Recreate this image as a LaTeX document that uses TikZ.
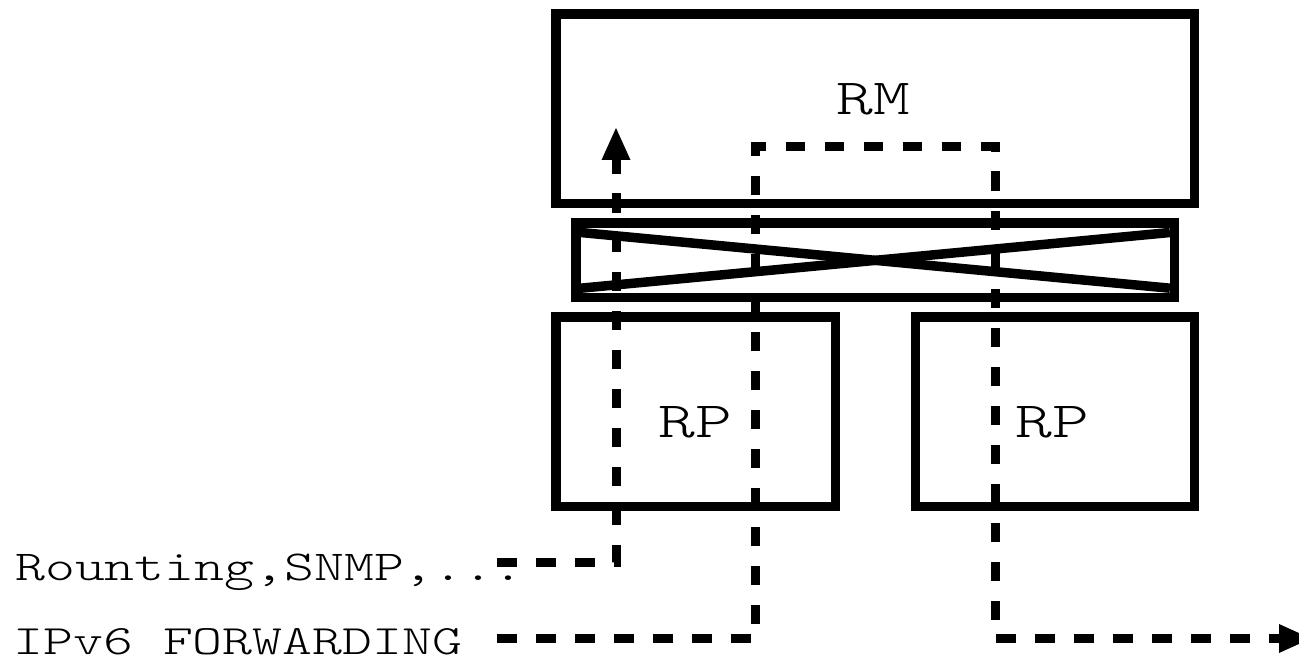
\documentclass[tikz,border=0pt]{standalone}
\usepackage{fontspec}
\newfontfamily\lmlight{lmmonolt10-regular.otf}
\usetikzlibrary{arrows.meta}
\begin{document}
\begin{tikzpicture}[x=1pt,y=-1pt,
  box/.style={draw, line width=9.5pt, inner sep=0pt, outer sep=0pt},
  diag/.style={line width=9.5pt},
  lab/.style={inner sep=0pt, outer sep=0pt, font=\lmlight},
  flow/.style={line width=9pt, dash pattern=on 19.5pt off 19.5pt,
    -{Triangle[length=32pt, width=29pt, line width=0pt]}}]
\clip (0,0) rectangle (1299,658);
% boxes
\node[box, minimum width=638.7pt, minimum height=189.7pt] (rm) at (875.35,108.85) {};
\node[box, minimum width=598.7pt, minimum height=74.7pt] (xb) at (875.35,260.35) {};
\node[box, minimum width=279.5pt, minimum height=189.3pt] (rpl) at (695.75,411.65) {};
\node[box, minimum width=279.4pt, minimum height=189.3pt] (rpr) at (1055,411.65) {};
% crossbar diagonals
\draw[diag] ([shift={(4.75,9.5)}]xb.north west) -- ([shift={(-4.75,-9.5)}]xb.south east);
\draw[diag] ([shift={(4.75,-9.5)}]xb.south west) -- ([shift={(-4.75,9.5)}]xb.north east);
% labels
\node[lab, anchor=base] (lrm) at (873,114.3) {\resizebox{73.6pt}{31pt}{RM}};
\node[lab, anchor=base] (lrpl) at (695.5,437) {\resizebox{73.6pt}{31pt}{RP}};
\node[lab, anchor=base] (lrpr) at (1052,437) {\resizebox{73.6pt}{31pt}{RP}};
\node[lab, anchor=base west] (t1) at (15.3,580) {\resizebox{508.3pt}{26.5pt}{Rounting,SNMP,...}};
\node[lab, anchor=base west] (t2) at (13.6,654.5) {\resizebox{448.5pt}{26pt}{IPv6 FORWARDING}};
% flows
\coordinate (a0) at (497,562);
\coordinate (a1) at (616,562);
\coordinate (a2) at (616,128);
\draw[flow] (a0) -- (a1) -- (a2);
\coordinate (b0) at (497,638.5);
\coordinate (b1) at (755.7,638.5);
\coordinate (b2) at (755.7,147);
\coordinate (b3) at (995,147);
\coordinate (b4) at (995,638.5);
\coordinate (b5) at (1311,638.5);
\draw[flow] (b0) -- (b1) -- (b2) -- (b3) -- (b4) -- (b5);
\end{tikzpicture}
\end{document}
